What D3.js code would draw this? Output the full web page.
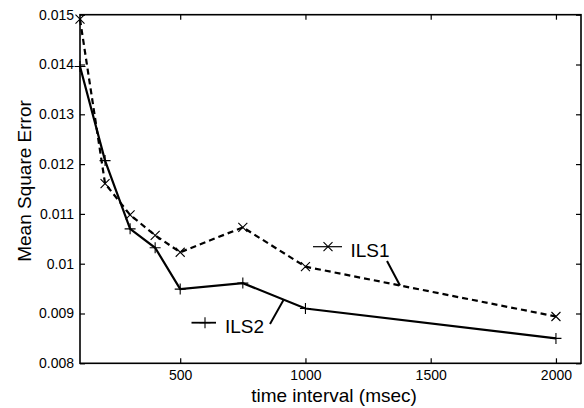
<!DOCTYPE html>
<html><head><meta charset="utf-8">
<script src="https://cdn.jsdelivr.net/npm/d3@7"></script>
<style>body{margin:0;background:#fff;} svg{display:block;font-family:"Liberation Sans",Arial,sans-serif;}</style>
</head><body>
<svg id="c" width="584" height="408"></svg>
<script>
const intervals = [100, 200, 300, 400, 500, 750, 1000, 2000];
const ils1 = [0.01491, 0.01161, 0.01098, 0.01057, 0.01023, 0.01073, 0.00994, 0.00894];
const ils2 = [0.01396, 0.01207, 0.01070, 0.01032, 0.00949, 0.00961, 0.00910, 0.00850];
const xTicks = [500, 1000, 1500, 2000];
const xTickLabels = ["500", "1000", "1500", "2000"];
const yTicks = [0.008, 0.009, 0.010, 0.011, 0.012, 0.013, 0.014, 0.015];
const yTickLabels = ["0.008", "0.009", "0.01", "0.011", "0.012", "0.013", "0.014", "0.015"];

const svg = d3.select("#c");
const L = 80, R = 581, T = 14.7, B = 363.3;
const x = d3.scaleLinear().domain([100, 2100]).range([L, R]);
const y = d3.scaleLinear().domain([0.008, 0.015]).range([B, T]);

// frame
svg.append("rect").attr("x", L).attr("y", T).attr("width", R - L).attr("height", B - T)
  .attr("fill", "none").attr("stroke", "#000").attr("stroke-width", 1.6);

// axes
const tickLen = 5;
const ax = svg.append("g").attr("transform", `translate(0,${B})`)
  .call(d3.axisBottom(x).tickValues(xTicks).tickSizeInner(-tickLen).tickSizeOuter(0).tickPadding(7)
    .tickFormat((d, i) => xTickLabels[i]));
const axTop = svg.append("g").attr("transform", `translate(0,${T})`)
  .call(d3.axisTop(x).tickValues(xTicks).tickSizeInner(-tickLen).tickSizeOuter(0).tickFormat(""));
const ay = svg.append("g").attr("transform", `translate(${L},0)`)
  .call(d3.axisLeft(y).tickValues(yTicks).tickSizeInner(-tickLen).tickSizeOuter(0).tickPadding(6)
    .tickFormat((d, i) => yTickLabels[i]));
const ayR = svg.append("g").attr("transform", `translate(${R},0)`)
  .call(d3.axisRight(y).tickValues(yTicks).tickSizeInner(-tickLen).tickSizeOuter(0).tickFormat(""));
[ax, axTop, ay, ayR].forEach(g => {
  g.select(".domain").remove();
  g.selectAll(".tick line").attr("stroke", "#000").attr("stroke-width", 1.2);
  g.selectAll("text").attr("font-size", 14).attr("font-family", "Liberation Sans, Arial, sans-serif").attr("fill", "#000");
});

// series
const line = d3.line().x(d => x(d[0])).y(d => y(d[1]));
const d1 = intervals.map((v, i) => [v, ils1[i]]);
const d2 = intervals.map((v, i) => [v, ils2[i]]);
svg.append("path").datum(d1).attr("d", line).attr("fill", "none").attr("stroke", "#000")
  .attr("stroke-width", 2.2).attr("stroke-dasharray", "6,4");
svg.append("path").datum(d2).attr("d", line).attr("fill", "none").attr("stroke", "#000")
  .attr("stroke-width", 2.2);

function cross(g, cx, cy, s) {
  g.append("path").attr("d", `M${cx - s},${cy - s}L${cx + s},${cy + s}M${cx - s},${cy + s}L${cx + s},${cy - s}`)
    .attr("stroke", "#000").attr("stroke-width", 1.1).attr("fill", "none");
}
function plus(g, cx, cy, s) {
  g.append("path").attr("d", `M${cx - s},${cy}L${cx + s},${cy}M${cx},${cy - s}L${cx},${cy + s}`)
    .attr("stroke", "#000").attr("stroke-width", 1.1).attr("fill", "none");
}
const mk = svg.append("g");
d1.forEach(d => cross(mk, x(d[0]), y(d[1]), 4.5));
d2.forEach(d => plus(mk, x(d[0]), y(d[1]), 5.5));

// annotations
const ann = svg.append("g");
ann.append("line").attr("x1", 313).attr("x2", 342).attr("y1", 246.7).attr("y2", 246.7).attr("stroke", "#000").attr("stroke-width", 1.2);
cross(ann, 328, 246.7, 4.5);
ann.append("text").attr("x", 350.5).attr("y", 256.7).attr("font-size", 19).text("ILS1");
ann.append("line").attr("x1", 387).attr("y1", 261).attr("x2", 400).attr("y2", 285.5).attr("stroke", "#000").attr("stroke-width", 2);

ann.append("line").attr("x1", 191.5).attr("x2", 216).attr("y1", 322.7).attr("y2", 322.7).attr("stroke", "#000").attr("stroke-width", 1.8);
plus(ann, 205, 322.7, 5.5);
ann.append("text").attr("x", 225).attr("y", 333.3).attr("font-size", 19).text("ILS2");
ann.append("line").attr("x1", 270).attr("y1", 324).attr("x2", 283.5).attr("y2", 300).attr("stroke", "#000").attr("stroke-width", 2);

// axis labels
svg.append("text").attr("x", 334).attr("y", 402).attr("text-anchor", "middle").attr("font-size", 19).text("time interval (msec)");
svg.append("text").attr("transform", "translate(31,181) rotate(-90)").attr("text-anchor", "middle").attr("font-size", 19).text("Mean Square Error");
</script>
</body></html>
